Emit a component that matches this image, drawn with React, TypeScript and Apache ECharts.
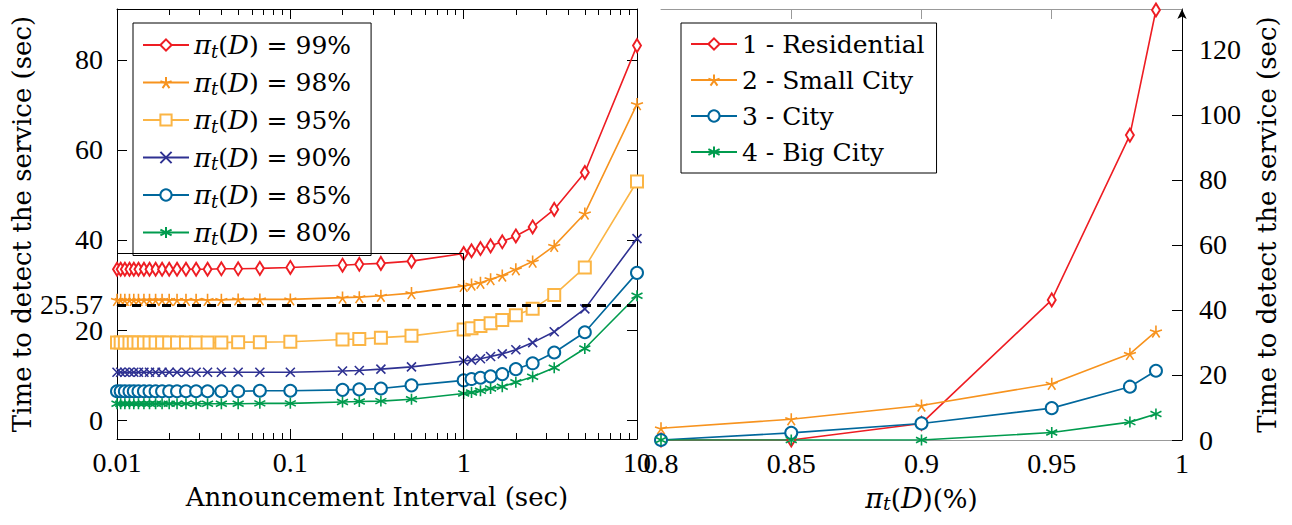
import React, { useEffect, useRef } from 'react';
import * as echarts from 'echarts';

// ---------- Data: left panel ----------
const intervals = [
  0.01, 0.0105, 0.0111, 0.0118, 0.0125, 0.0133, 0.0143, 0.0154, 0.0167, 0.0182, 0.02,
  0.0222, 0.025, 0.0286, 0.0333, 0.04, 0.05, 0.0667, 0.1, 0.2, 0.25, 0.333, 0.5, 1,
  1.11, 1.25, 1.43, 1.67, 2, 2.5, 3.33, 5, 10,
];
const pi99 = [
  33.5, 33.5, 33.5, 33.5, 33.5, 33.5, 33.5, 33.5, 33.5, 33.5, 33.5, 33.5, 33.5, 33.5, 33.5,
  33.6, 33.6, 33.7, 33.9, 34.4, 34.6, 34.8, 35.3, 37.0, 37.6, 38.1, 38.7, 39.6, 40.9, 42.9,
  46.8, 55.0, 83.2,
];
const pi98 = [
  26.7, 26.7, 26.7, 26.7, 26.7, 26.7, 26.7, 26.7, 26.7, 26.7, 26.7, 26.7, 26.7, 26.7, 26.7,
  26.7, 26.8, 26.8, 26.8, 27.2, 27.3, 27.6, 28.2, 29.8, 30.1, 30.5, 31.3, 32.1, 33.5, 35.2,
  38.7, 45.9, 70.2,
];
const pi95 = [
  17.2, 17.2, 17.2, 17.2, 17.2, 17.2, 17.2, 17.2, 17.2, 17.2, 17.2, 17.2, 17.2, 17.2, 17.2,
  17.2, 17.3, 17.3, 17.4, 17.9, 18.0, 18.3, 18.7, 20.1, 20.4, 20.9, 21.5, 22.2, 23.3, 24.7,
  27.8, 33.9, 53.0,
];
const pi90 = [
  10.6, 10.6, 10.6, 10.6, 10.6, 10.6, 10.6, 10.6, 10.6, 10.6, 10.6, 10.6, 10.6, 10.6, 10.6,
  10.6, 10.6, 10.6, 10.6, 10.9, 11.0, 11.3, 11.8, 13.1, 13.3, 13.6, 14.1, 14.7, 15.6, 17.2,
  19.6, 24.7, 40.3,
];
const pi85 = [
  6.4, 6.4, 6.4, 6.4, 6.4, 6.4, 6.4, 6.4, 6.4, 6.4, 6.4, 6.4, 6.4, 6.4, 6.4,
  6.4, 6.4, 6.5, 6.5, 6.7, 6.8, 7.0, 7.7, 8.8, 9.1, 9.4, 9.7, 10.2, 11.3, 12.6,
  15.0, 19.5, 32.7,
];
const pi80 = [
  3.6, 3.6, 3.6, 3.6, 3.6, 3.6, 3.6, 3.6, 3.6, 3.6, 3.6, 3.6, 3.6, 3.6, 3.6,
  3.6, 3.6, 3.7, 3.7, 4.0, 4.1, 4.2, 4.6, 5.9, 6.1, 6.5, 7.0, 7.4, 8.4, 9.6,
  11.6, 15.9, 27.6,
];
const piLabels = ['99%', '98%', '95%', '90%', '85%', '80%'];
const leftYTicks = [0, 20, 40, 60, 80];
const thresholdValue = 25.57;
const minorLogTicks = [
  0.02, 0.03, 0.04, 0.05, 0.06, 0.07, 0.08, 0.09,
  0.2, 0.3, 0.4, 0.5, 0.6, 0.7, 0.8, 0.9,
  2, 3, 4, 5, 6, 7, 8, 9,
];

// ---------- Data: right panel ----------
const piValues = [0.8, 0.85, 0.9, 0.95, 0.98, 0.99];
const residential = [0, 0, 5.1, 43.1, 93.8, 132.3];
const smallCity = [3.6, 6.4, 10.6, 17.3, 26.5, 33.4];
const city = [0, 2.2, 5.1, 9.8, 16.4, 21.3];
const bigCity = [0, 0, 0, 2.3, 5.5, 8.0];
const areaNames = ['1 - Residential', '2 - Small City', '3 - City', '4 - Big City'];
const rightXTicks = [0.8, 0.85, 0.9, 0.95, 1];
const rightTopTicks = [0.85, 0.9, 0.95];
const rightYTicks = [0, 20, 40, 60, 80, 100, 120];

const NUMFONT = "'Liberation Serif', serif";
const TXTFONT = "'DejaVu Serif', serif";
const NFS = 28;
const TFS = 25;
const NAMEFS = 26;

const C = {
  red: '#ee1d23',
  orange: '#f7931e',
  yellow: '#fbb545',
  navy: '#2e3192',
  blue: '#00679c',
  green: '#009b4e',
};

const STAR = 'path://M5,5L5,0M5,5L9.755,3.455M5,5L7.939,9.045M5,5L2.061,9.045M5,5L0.245,3.455';
const CROSS = 'path://M0,0L10,10M10,0L0,10';
const ASTER = 'path://M5,0L5,10M0.67,2.5L9.33,7.5M0.67,7.5L9.33,2.5';

const makeRich = (fs: number) => ({
  i: { fontStyle: 'italic', fontSize: fs + 1, fontFamily: TXTFONT, color: '#000' },
  s: { fontStyle: 'italic', fontSize: Math.round(fs * 0.72), fontFamily: TXTFONT, color: '#000', verticalAlign: 'bottom' },
  n: { fontSize: fs, fontFamily: TXTFONT, color: '#000' },
});
const rich = makeRich(TFS);
const nameRich = makeRich(NAMEFS);

const zip = (xs: number[], ys: number[]) => xs.map((x, i) => [x, ys[i]]);

export default function App() {
  const ref = useRef<HTMLDivElement>(null);
  useEffect(() => {
    if (!ref.current) return;
    const chart = echarts.init(ref.current, null, { renderer: 'svg' });

    const leftSeriesDefs = [
      { name: piLabels[0], data: pi99, color: C.red, symbol: 'emptyDiamond', size: [8, 13] },
      { name: piLabels[1], data: pi98, color: C.orange, symbol: STAR, size: 12 },
      { name: piLabels[2], data: pi95, color: C.yellow, symbol: 'emptyRect', size: 12 },
      { name: piLabels[3], data: pi90, color: C.navy, symbol: CROSS, size: 9 },
      { name: piLabels[4], data: pi85, color: C.blue, symbol: 'emptyCircle', size: 12 },
      { name: piLabels[5], data: pi80, color: C.green, symbol: ASTER, size: 11 },
    ];
    const rightSeriesDefs = [
      { name: areaNames[0], data: residential, color: C.red, symbol: 'emptyDiamond', size: [8, 13] },
      { name: areaNames[1], data: smallCity, color: C.orange, symbol: STAR, size: 12 },
      { name: areaNames[2], data: city, color: C.blue, symbol: 'emptyCircle', size: 12 },
      { name: areaNames[3], data: bigCity, color: C.green, symbol: ASTER, size: 11 },
    ];

    const mkSeries = (d: any, xs: number[], xIdx: number, yIdx: number) => ({
      type: 'line',
      name: d.name,
      xAxisIndex: xIdx,
      yAxisIndex: yIdx,
      data: zip(xs, d.data),
      symbol: d.symbol,
      symbolSize: d.size,
      showSymbol: true,
      color: d.color,
      lineStyle: { color: d.color, width: 1.6 },
      itemStyle: { color: d.color, borderColor: d.color, borderWidth: 1.6 },
      emphasis: { disabled: true },
    });

    const leftSeries: any[] = leftSeriesDefs.map((d) => mkSeries(d, intervals, 0, 0));
    leftSeries[0].markLine = {
      silent: true,
      symbol: ['none', 'none'],
      label: { show: false },
      animation: false,
      data: [
        [
          { coord: [intervals[0], pi99[23]], lineStyle: { color: '#000', width: 1, type: 'solid' } },
          { coord: [intervals[23], pi99[23]] },
        ],
        [
          { coord: [intervals[23], pi99[23]], lineStyle: { color: '#000', width: 1, type: 'solid' } },
          { coord: [intervals[23], -4.22] },
        ],
        { yAxis: thresholdValue, lineStyle: { color: '#000', width: 3, type: [9, 6] } },
      ],
    };
    const rightSeries = rightSeriesDefs.map((d) => mkSeries(d, piValues, 4, 2));

    const black = { color: '#000', width: 1 };
    const gray = { color: '#999', width: 1 };
    const numStyle = () => ({ color: '#000', fontFamily: NUMFONT, fontSize: NFS });
    const txtStyle = (fs: number) => ({ color: '#000', fontFamily: TXTFONT, fontSize: fs });

    const option: any = {
      animation: false,
      backgroundColor: '#fff',
      textStyle: { fontFamily: TXTFONT },
      grid: [
        { left: 117, top: 9, width: 520, height: 430 },
        { left: 661, top: 9, width: 521, height: 431 },
      ],
      legend: [
        {
          data: piLabels,
          orient: 'vertical',
          left: 133,
          top: 23,
          backgroundColor: '#fff',
          borderColor: '#000',
          borderWidth: 1,
          borderRadius: 0,
          padding: [7, 20, 8, 9],
          itemGap: 7.5,
          itemWidth: 46,
          itemHeight: 14,
          selectedMode: false,
          formatter: (name: string) => `{i|π}{s|t}{n|(}{i|D}{n|) = ${name}}`,
          textStyle: { ...txtStyle(TFS), rich, lineHeight: 30 },
        },
        {
          data: areaNames,
          orient: 'vertical',
          left: 681,
          top: 23,
          backgroundColor: '#fff',
          borderColor: '#000',
          borderWidth: 1,
          borderRadius: 0,
          padding: [6, 12, 6, 9],
          itemGap: 6,
          itemWidth: 46,
          itemHeight: 14,
          selectedMode: false,
          formatter: (name: string) => `{n|${name}}`,
          textStyle: { ...txtStyle(TFS), rich, lineHeight: 30 },
        },
      ],
      xAxis: [
        {
          type: 'log', logBase: 10, gridIndex: 0, min: 0.01, max: 10, position: 'bottom',
          axisLine: { onZero: false, lineStyle: black },
          axisTick: { inside: true, length: 10, lineStyle: black },
          axisLabel: { ...numStyle(), margin: 9, formatter: (v: number) => String(+Number(v).toPrecision(3)) },
          splitLine: { show: false },
          name: '{n|Announcement Interval (sec)}', nameLocation: 'middle', nameGap: 45,
          nameTextStyle: { ...txtStyle(NAMEFS), rich: nameRich },
        },
        {
          type: 'value', gridIndex: 0, min: -2, max: 1, position: 'bottom',
          axisLine: { show: false, onZero: false },
          axisTick: { inside: true, length: 6, lineStyle: black, customValues: minorLogTicks.map(Math.log10) },
          axisLabel: { show: false },
          splitLine: { show: false },
        },
        {
          type: 'log', logBase: 10, gridIndex: 0, min: 0.01, max: 10, position: 'top',
          axisLine: { onZero: false, lineStyle: black },
          axisTick: { inside: true, length: 10, lineStyle: black },
          axisLabel: { show: false },
          splitLine: { show: false },
        },
        {
          type: 'value', gridIndex: 0, min: -2, max: 1, position: 'top',
          axisLine: { show: false, onZero: false },
          axisTick: { inside: true, length: 6, lineStyle: black, customValues: minorLogTicks.map(Math.log10) },
          axisLabel: { show: false },
          splitLine: { show: false },
        },
        {
          type: 'value', gridIndex: 1, min: 0.8, max: 1, position: 'bottom',
          axisLine: { onZero: false, lineStyle: gray },
          axisTick: { show: false },
          axisLabel: {
            ...numStyle(), margin: 9, customValues: rightXTicks,
            formatter: (v: number) => String(+Number(v).toFixed(2)),
          },
          splitLine: { show: false },
          name: '{i|π}{s|t}{n|(}{i|D}{n|)(%)}', nameLocation: 'middle', nameGap: 45,
          nameTextStyle: { ...txtStyle(NAMEFS), rich: nameRich },
        },
        {
          type: 'value', gridIndex: 1, min: 0.8, max: 1, position: 'top',
          axisLine: { onZero: false, lineStyle: gray },
          axisTick: { inside: true, length: 10, lineStyle: gray, customValues: rightTopTicks },
          axisLabel: { show: false },
          splitLine: { show: false },
        },
      ],
      yAxis: [
        {
          type: 'value', gridIndex: 0, min: -4.22, max: 91.33, position: 'left',
          axisLine: { show: true, onZero: false, lineStyle: black },
          axisTick: { show: true, inside: true, length: 10, lineStyle: black, customValues: leftYTicks },
          axisLabel: {
            ...numStyle(), margin: 14, customValues: [...leftYTicks, thresholdValue],
            formatter: (v: number) => String(v),
          },
          splitLine: { show: false },
          name: '{n|Time to detect the service (sec)}', nameLocation: 'middle', nameGap: 82, nameRotate: 90,
          nameTextStyle: { ...txtStyle(NAMEFS), rich: nameRich },
        },
        {
          type: 'value', gridIndex: 0, min: -4.22, max: 91.33, position: 'right',
          axisLine: { show: true, onZero: false, lineStyle: black },
          axisTick: { show: true, inside: true, length: 10, lineStyle: black, customValues: leftYTicks },
          axisLabel: { show: false },
          splitLine: { show: false },
        },
        {
          type: 'value', gridIndex: 1, min: 0, max: 132.6, position: 'right',
          axisLine: { show: true, onZero: false, lineStyle: black, symbol: ['none', 'arrow'], symbolSize: [7, 10] },
          axisTick: { show: true, inside: true, length: 10, lineStyle: black, customValues: rightYTicks },
          axisLabel: { ...numStyle(), margin: 17, customValues: rightYTicks, formatter: (v: number) => String(v) },
          splitLine: { show: false },
          name: '{n|Time to detect the service (sec)}', nameLocation: 'middle', nameGap: 72, nameRotate: 90,
          nameTextStyle: { ...txtStyle(NAMEFS), rich: nameRich },
        },
      ],
      series: [...leftSeries, ...rightSeries],
    };

    chart.setOption(option);
    return () => chart.dispose();
  }, []);

  return (
    <div
      ref={ref}
      style={{ position: 'fixed', left: 0, top: 0, width: 1292, height: 525, background: '#fff' }}
    />
  );
}
